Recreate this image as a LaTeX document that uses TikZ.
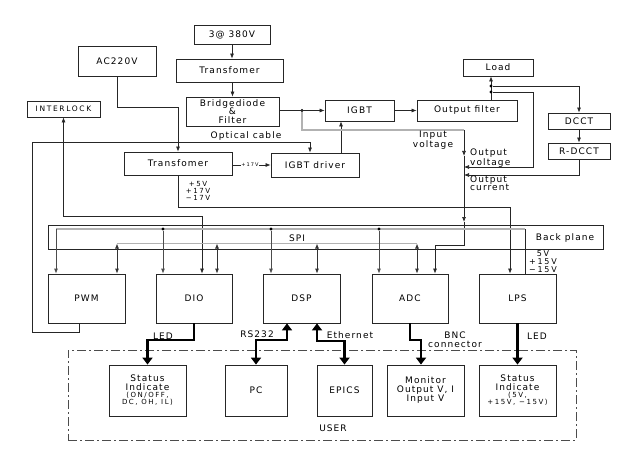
\documentclass[tikz,border=0pt]{standalone}
\usepackage{fontspec}
\setmainfont{DejaVu Sans}[LetterSpace=12]
\newfontfamily\swide{DejaVu Sans}[LetterSpace=22]
\usetikzlibrary{arrows.meta}
\newcommand\fsz[2]{\fontsize{#1}{#2}\selectfont}
\newcommand\smw{\swide\fsz{7}{7}}
\begin{document}
\begin{tikzpicture}[x=1pt,y=-1pt,
  box/.style={draw=black!85, line width=0.8pt, inner sep=0pt, align=center, font=\fsz{9}{9}},
  lbl/.style={inner sep=0pt, align=center, font=\fsz{9}{8.5}},
  ln/.style={line width=0.7pt, draw=black!85},
  arr/.style={ln, -{Latex[length=5pt,width=4pt]}},
  darr/.style={ln, {Latex[length=5pt,width=4pt]}-{Latex[length=5pt,width=4pt]}},
  gline/.style={line width=1.3pt, draw=gray!60},
  bus/.style={line width=1.5pt, draw=gray!60},
  drop/.style={line width=0.8pt, draw=black!70, -{Latex[length=5pt,width=4pt]}},
  ddrop/.style={line width=0.8pt, draw=black!80, {Latex[length=5pt,width=4pt]}-{Latex[length=5pt,width=4pt]}},
  tarr/.style={line width=2.8pt, draw=black, -{Triangle[length=7pt,width=10pt]}},
  tdarr/.style={line width=2.8pt, draw=black, {Triangle[length=7pt,width=10pt]}-{Triangle[length=7pt,width=10pt]}},
  dot/.style={circle, fill=black, inner sep=0pt, minimum size=3.2pt}]
\useasboundingbox (0,0) rectangle (639,449);

% ---------- upper boxes
\node[box,minimum width=76pt,minimum height=19pt] (p380) at (232,34.5) {3@ 380V};
\node[box,minimum width=107pt,minimum height=23pt] (tf1) at (229.5,70.5) {Transfomer};
\node[box,minimum width=93pt,minimum height=29pt,font=\fsz{9}{8.6}] (bridge) at (232.5,111.5) {Bridgediode\\\&\\Filter};
\node[box,minimum width=78pt,minimum height=30pt] (ac) at (117,61) {AC220V};
\node[box,minimum width=73pt,minimum height=16pt,font=\swide\fsz{7.5}{8}] (interlock) at (63.5,109) {INTERLOCK};
\node[box,minimum width=108pt,minimum height=23pt] (tf2) at (178,163.5) {Transfomer};
\node[box,minimum width=88pt,minimum height=24pt] (drv) at (315,165) {IGBT driver};
\node[box,minimum width=69pt,minimum height=21pt] (igbt) at (359.5,110.5) {IGBT};
\node[box,minimum width=100pt,minimum height=21pt] (ofilt) at (467,110.5) {Output filter};
\node[box,minimum width=70pt,minimum height=17pt] (load) at (498,67.5) {Load};
\node[box,minimum width=62pt,minimum height=16pt] (dcct) at (579,121) {DCCT};
\node[box,minimum width=62pt,minimum height=16pt] (rdcct) at (579,151) {R-DCCT};

% ---------- back plane and modules
\node[box,minimum width=555pt,minimum height=24pt] (bp) at (325.5,237) {};
\node[box,minimum width=77pt,minimum height=49pt] (pwm) at (86.5,298.5) {PWM};
\node[box,minimum width=76pt,minimum height=49pt] (dio) at (194,298.5) {DIO};
\node[box,minimum width=77pt,minimum height=49pt] (dsp) at (301.5,298.5) {DSP};
\node[box,minimum width=76pt,minimum height=49pt] (adc) at (410,298.5) {ADC};
\node[box,minimum width=77pt,minimum height=49pt] (lps) at (517.5,298.5) {LPS};

% ---------- user area
\node[draw=black!70, dash pattern=on 9pt off 3pt on 2pt off 3pt, line width=0.8pt, minimum width=508pt, minimum height=90pt, inner sep=0pt] (user) at (322,395) {};
\node[box,minimum width=77pt,minimum height=51pt] (st1) at (147.5,390.5) {Status\\Indicate\\[-2pt]\smw (ON/OFF,\\[-2pt]\smw DC, OH, IL)};
\node[box,minimum width=62pt,minimum height=51pt] (pc) at (256,390.5) {PC};
\node[box,minimum width=55pt,minimum height=51pt] (epics) at (344.5,390.5) {EPICS};
\node[box,minimum width=77pt,minimum height=51pt] (mon) at (425.5,390.5) {Monitor\\Output V, I\\Input V};
\node[box,minimum width=77pt,minimum height=51pt] (st2) at (517.5,390.5) {Status\\Indicate\\[-2pt]\smw (5V,\\[-2pt]\smw +15V, −15V)};

% ---------- coordinates
\coordinate (acb) at (178,107);
\coordinate (oc1) at (32,142);
\coordinate (oc2) at (32,332);
\coordinate (oc3) at (79,332);
\coordinate (oc4) at (310,142);
\coordinate (il2) at (202,216);
\coordinate (t2) at (510,207);
\coordinate (gx) at (341,140);
\coordinate (lx) at (491,80);
\coordinate (iv1) at (302,130);
\coordinate (iv2) at (464,130);
\coordinate (ivA) at (464,156);
\coordinate (ivB) at (464,222);
\coordinate (iv3) at (464,245);
\coordinate (iv4) at (435,245);
\coordinate (ov1) at (533,167);
\coordinate (ocur) at (464,175);
\coordinate (ub0) at (56,229);
\coordinate (ub1) at (525,229);
\coordinate (lb0) at (117,243.5);
\coordinate (lb1) at (417,243.5);
\coordinate (lb2) at (217,243.5);
\coordinate (lb3) at (317,243.5);
\coordinate (b1) at (147.5,340);
\coordinate (b2) at (287,340);
\coordinate (b3) at (317,341);
\coordinate (b4) at (421,340);

% ---------- power path
\draw[arr] (p380.south) -- (p380.south |- tf1.north);
\draw[arr] (tf1.south -| bridge.north) -- (bridge.north);
\draw[arr] (ac.south) |- (acb) -- (tf2.north);
\node[dot] (bd) at (302,110.5) {};
\draw[arr] (bridge.east |- igbt.west) -- (igbt.west);
\draw[arr] (igbt.east) -- (ofilt.west);
\draw[arr] (gx |- drv.north) -- (gx |- igbt.south);
\draw[arr] (tf2.east |- drv.west) -- (drv.west);
\node[lbl,fill=white,inner sep=0.6pt,font=\swide\fsz{5}{5}] (l17) at (250,165) {+17V};

% optical cable
\draw[arr] (oc3 |- pwm.south) -- (oc3) -- (oc2) -- (oc1) -- (oc4) -- (oc4 |- drv.north);
\node[lbl] (lopt) at (246,136.5) {Optical cable};

% interlock
\draw[darr] (interlock.south) |- (il2) -- (il2 |- dio.north);

% transformer supply to LPS
\draw[arr] (tf2.south) |- (t2) -- (t2 |- lps.north);
\node[lbl,font=\swide\fsz{7}{7.2}] (lpow) at (198,191) {+5V\\+17V\\−17V};

% load side
\draw[arr] (lx |- ofilt.north) -- (lx |- load.south);
\node[dot] (j1) at (491,86) {};
\node[dot] (j2) at (491,92) {};
\draw[arr] (j1) -| (dcct.north);
\draw[arr] (dcct.south) -- (rdcct.north);
\draw[arr] (j2) -| (ov1) -- (ov1 -| iv2);
\draw[arr] (rdcct.south) |- (ocur);

% input voltage measurement line
\draw[gline] (bd) -- (iv1) -- (iv2);
\draw[arr] (iv2) -- (ivA);
\draw[arr] (ivA) -- (ivB);
\draw[arr] (ivB) -- (iv3) -- (iv4) -- (iv4 |- adc.north);
\node[lbl] (liv) at (433,140.5) {Input\\voltage};
\node[lbl,anchor=west,align=left] (lov) at (470,158) {Output\\voltage};
\node[lbl,anchor=west,align=left] (loc) at (470,183) {Output\\current};

% ---------- back plane buses
\draw[bus] (ub0) -- (ub1);
\draw[bus] (lb0) -- (lb1);
\draw[drop] (ub0) -- (ub0 |- pwm.north);
\draw[ln] (ub1) -- (ub1 |- lps.north);
\node[dot] (d1) at (163,229) {};
\node[dot] (d2) at (271,229) {};
\node[dot] (d3) at (379,229) {};
\draw[drop] (d1) -- (d1 |- dio.north);
\draw[drop] (d2) -- (d2 |- dsp.north);
\draw[drop] (d3) -- (d3 |- adc.north);
\draw[ddrop] (lb0) -- (lb0 |- pwm.north);
\draw[ddrop] (lb2) -- (lb2 |- dio.north);
\draw[ddrop] (lb3) -- (lb3 |- dsp.north);
\draw[ddrop] (lb1) -- (lb1 |- adc.north);
\node[lbl] (lspi) at (297,238) {SPI};
\node[lbl] (lbp) at (565,238) {Back plane};
\node[lbl,font=\swide\fsz{8}{8}] (lv) at (543,262) {5V\\+15V\\−15V};

% ---------- user connections
\draw[tarr] (dio.south) |- (b1) -- (st1.north);
\draw[tdarr] (pc.north) |- (b2) -- (b2 |- dsp.south);
\draw[tdarr] (b3 |- dsp.south) -- (b3) -| (epics.north);
\draw[tarr] (adc.south) |- (b4) -- (b4 |- mon.north);
\draw[tarr] (lps.south) -- (st2.north);
\node[lbl] (lled1) at (163,336) {LED};
\node[lbl] (lrs) at (257,334) {RS232};
\node[lbl] (leth) at (350,335) {Ethernet};
\node[lbl] (lbnc) at (455,339.5) {BNC\\connector};
\node[lbl] (lled2) at (537,336) {LED};
\node[lbl] (luser) at (333,428) {USER};
\end{tikzpicture}
\end{document}
